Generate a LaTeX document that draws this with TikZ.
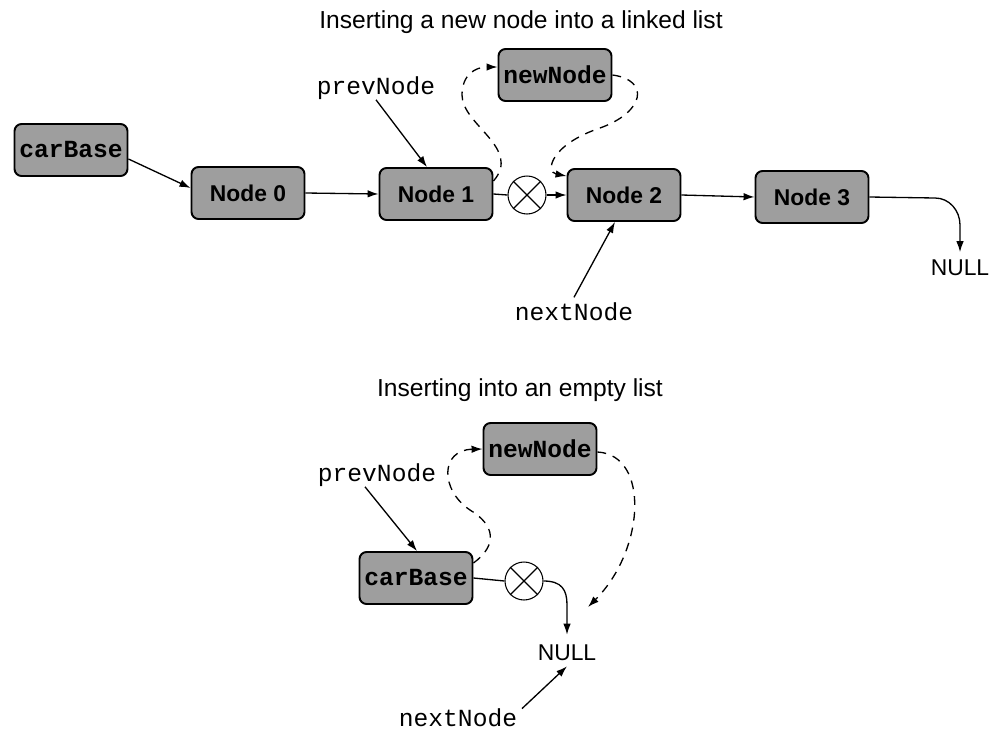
\documentclass[tikz,border=0pt]{standalone}
\usepackage{fontspec}
\setmainfont{Liberation Serif}
\setsansfont{Liberation Sans}
\setmonofont{Liberation Mono}
\usetikzlibrary{arrows.meta}
\begin{document}
\begin{tikzpicture}[x=0.02cm,y=-0.02cm,
 box/.style={draw, line width=1.1pt, rounded corners=4pt, fill=black!38, minimum width=2.26cm, minimum height=1.04cm, inner sep=0pt, font=\sffamily\bfseries\fontsize{13}{15}\selectfont},
 mbox/.style={box, font=\ttfamily\bfseries\fontsize{14}{16}\selectfont},
 lab/.style={font=\ttfamily\fontsize{14}{16}\selectfont, inner sep=0pt},
 ttl/.style={font=\sffamily\fontsize{14}{16}\selectfont, inner sep=0pt},
 nul/.style={font=\sffamily\fontsize{13}{15}\selectfont, inner sep=0pt},
 arr/.style={line width=0.75pt, -{Latex[length=2.2mm,width=1.5mm]}},
 ln/.style={line width=0.75pt},
 darr/.style={arr, dash pattern=on 5pt off 4pt},
 xc/.style={draw, circle, minimum size=0.76cm, inner sep=0pt, line width=0.6pt}
]
\useasboundingbox (0,0) rectangle (1000,730);

% ---------- top ----------
\node[ttl] (t1) at (521,22) {Inserting a new node into a linked list};
\node[mbox] (cb) at (71,150) {carBase};
\node[box] (n0) at (248,193) {Node 0};
\node[box] (n1) at (436,194) {Node 1};
\node[mbox] (nn) at (555,75) {newNode};
\node[xc] (x1) at (527,195) {};
\node[box] (n2) at (624,195) {Node 2};
\node[box] (n3) at (812,197) {Node 3};
\node[nul] (null1) at (960,268) {NULL};
\node[lab] (pv1) at (376,88) {prevNode};
\node[lab] (nx1) at (574,312) {nextNode};

\draw[ln] (x1.north west) -- (x1.south east) (x1.north east) -- (x1.south west);

\draw[arr] ([yshift=-0.18cm]cb.east) -- ([yshift=0.1cm]n0.west);
\draw[arr] (n0.east) -- (n1.west);
\draw[ln] (n1.east) -- (x1.west);
\draw[arr] (x1.east) -- (n2.west);
\draw[arr] (n2.east) -- (n3.west);
\draw[arr] (n3.east) -- (935,198) to[out=0,in=90] (960,225) -- ([yshift=0.15cm]null1.north);
\draw[arr] (pv1.south) -- ([xshift=-0.18cm]n1.north);
\draw[arr] ([yshift=3pt]nx1.north) -- ([xshift=-0.18cm]n2.south);

\draw[darr] ([yshift=0.26cm]n1.east) .. controls (522,148) and (462,125) .. (462,95) .. controls (462,75) and (475,67) .. ([yshift=0.16cm]nn.west);
\draw[darr] (nn.east) .. controls (650,80) and (645,112) .. (600,128) .. controls (550,145) and (545,172) .. ([yshift=-0.16cm]n2.north west);

% ---------- bottom ----------
\node[ttl] (t2) at (520,390) {Inserting into an empty list};
\node[mbox] (nn2) at (540,449) {newNode};
\node[lab] (pv2) at (377,475) {prevNode};
\node[mbox] (cb2) at (416,578) {carBase};
\node[xc] (x2) at (524,581) {};
\node[nul] (null2) at (567,653) {NULL};
\node[lab] (nx2) at (458,718) {nextNode};
\coordinate (d2end) at (588,607);

\draw[ln] (x2.north west) -- (x2.south east) (x2.north east) -- (x2.south west);

\draw[ln] (cb2.east) -- (x2.west);
\draw[arr] (x2.east) .. controls (562,581) and (567,590) .. (567,605) -- ([yshift=0.2cm]null2.north);
\draw[arr] ([xshift=-0.24cm]pv2.south) -- ([xshift=0.02cm]cb2.north);
\draw[arr] ([xshift=1.28cm]nx2.north) -- ([yshift=-0.1cm]null2.south);

\draw[darr] ([yshift=0.3cm]cb2.east) .. controls (498,545) and (495,525) .. (470,510) .. controls (440,490) and (440,450) .. (nn2.west);
\draw[darr] ([yshift=-0.06cm]nn2.east) .. controls (650,455) and (645,550) .. (d2end);
\end{tikzpicture}
\end{document}
